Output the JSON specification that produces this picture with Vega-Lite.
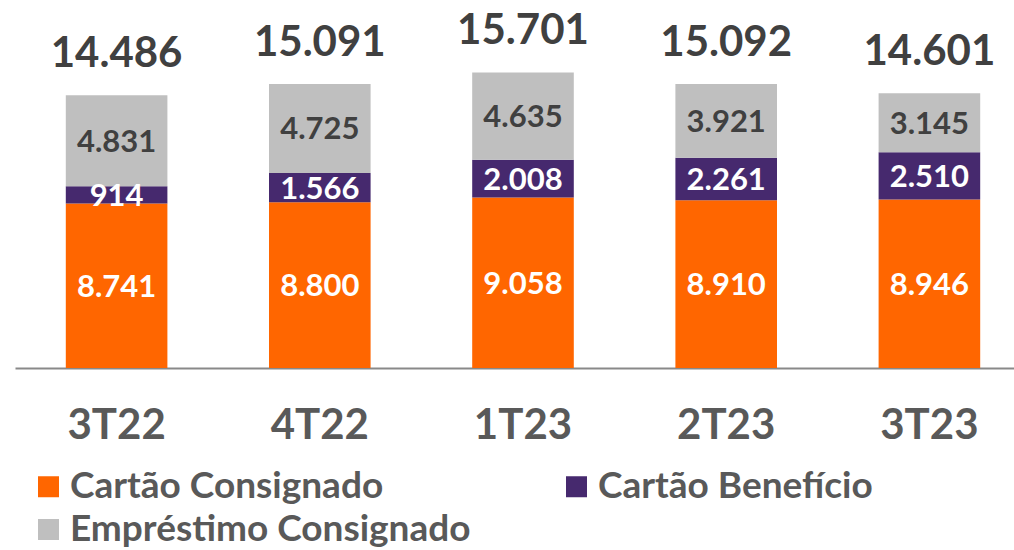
{
  "$schema": "https://vega.github.io/schema/vega-lite/v6.json",
  "width": 1014,
  "height": 368,
  "autosize": {"type": "none"},
  "padding": {"left": 0, "top": 0, "right": 0, "bottom": 182},
  "background": "white",
  "config": {
    "view": {"stroke": null},
    "font": "Lato",
    "locale": {"number": {"decimal": ",", "thousands": ".", "grouping": [3], "currency": ["R$", ""]}}
  },
  "datasets": {
    "seg": [
      {"q": "3T22", "serie": "Cartão Consignado", "ord": 1, "value": 8741},
      {"q": "3T22", "serie": "Cartão Benefício", "ord": 2, "value": 914},
      {"q": "3T22", "serie": "Empréstimo Consignado", "ord": 3, "value": 4831},
      {"q": "4T22", "serie": "Cartão Consignado", "ord": 1, "value": 8800},
      {"q": "4T22", "serie": "Cartão Benefício", "ord": 2, "value": 1566},
      {"q": "4T22", "serie": "Empréstimo Consignado", "ord": 3, "value": 4725},
      {"q": "1T23", "serie": "Cartão Consignado", "ord": 1, "value": 9058},
      {"q": "1T23", "serie": "Cartão Benefício", "ord": 2, "value": 2008},
      {"q": "1T23", "serie": "Empréstimo Consignado", "ord": 3, "value": 4635},
      {"q": "2T23", "serie": "Cartão Consignado", "ord": 1, "value": 8910},
      {"q": "2T23", "serie": "Cartão Benefício", "ord": 2, "value": 2261},
      {"q": "2T23", "serie": "Empréstimo Consignado", "ord": 3, "value": 3921},
      {"q": "3T23", "serie": "Cartão Consignado", "ord": 1, "value": 8946},
      {"q": "3T23", "serie": "Cartão Benefício", "ord": 2, "value": 2510},
      {"q": "3T23", "serie": "Empréstimo Consignado", "ord": 3, "value": 3145}
    ],
    "tot": [
      {"q": "3T22", "total": 14486},
      {"q": "4T22", "total": 15091},
      {"q": "1T23", "total": 15701},
      {"q": "2T23", "total": 15092},
      {"q": "3T23", "total": 14601}
    ]
  },
  "layer": [
    {
      "data": {"name": "seg"},
      "mark": {"type": "bar"},
      "encoding": {
        "x": {
          "field": "q", "type": "nominal", "sort": null,
          "scale": {"range": [15, 1031], "paddingInner": 0.5, "paddingOuter": 0.25},
          "axis": {
            "title": null, "ticks": false, "domainColor": "#898989", "domainWidth": 2,
            "labelFont": "Lato", "labelFontWeight": "bold", "labelFontSize": 42,
            "labelColor": "#595959", "labelPadding": 37, "labelAngle": 0
          }
        },
        "y": {
          "field": "value", "type": "quantitative", "stack": "zero",
          "scale": {"domain": [0, 19550], "nice": false}, "axis": null
        },
        "order": {"field": "ord", "type": "quantitative", "sort": "ascending"},
        "color": {
          "field": "serie", "type": "nominal",
          "scale": {
            "domain": ["Cartão Consignado", "Cartão Benefício", "Empréstimo Consignado"],
            "range": ["#FF6600", "#46296E", "#BFBFBF"]
          },
          "legend": {
            "title": null, "orient": "none", "legendX": 30, "legendY": 468,
            "direction": "horizontal", "columns": 2, "columnPadding": 87, "rowPadding": 5,
            "symbolType": "square", "symbolSize": 441, "symbolStrokeWidth": 0,
            "labelFont": "Lato", "labelFontWeight": "bold", "labelFontSize": 37,
            "labelColor": "#595959", "labelOffset": 3, "labelLimit": 700
          }
        }
      }
    },
    {
      "data": {"name": "seg"},
      "transform": [
        {"stack": "value", "groupby": ["q"], "sort": [{"field": "ord", "order": "ascending"}], "as": ["v0", "v1"]},
        {"calculate": "(datum.v0 + datum.v1) / 2", "as": "mid"}
      ],
      "mark": {"type": "text", "font": "Lato", "fontWeight": "bold", "fontSize": 31, "baseline": "middle", "dy": 2},
      "encoding": {
        "x": {"field": "q", "type": "nominal", "sort": null},
        "y": {"field": "mid", "type": "quantitative"},
        "text": {"field": "value", "type": "quantitative", "format": ",d"},
        "color": {
          "condition": {"test": "datum.ord === 3", "value": "#404040"},
          "value": "#FFFFFF"
        }
      }
    },
    {
      "data": {"name": "tot"},
      "mark": {"type": "text", "font": "Lato", "fontWeight": "bold", "fontSize": 42, "baseline": "alphabetic", "dy": -28, "color": "#404040"},
      "encoding": {
        "x": {"field": "q", "type": "nominal", "sort": null},
        "y": {"field": "total", "type": "quantitative"},
        "text": {"field": "total", "type": "quantitative", "format": ",d"}
      }
    }
  ]
}
